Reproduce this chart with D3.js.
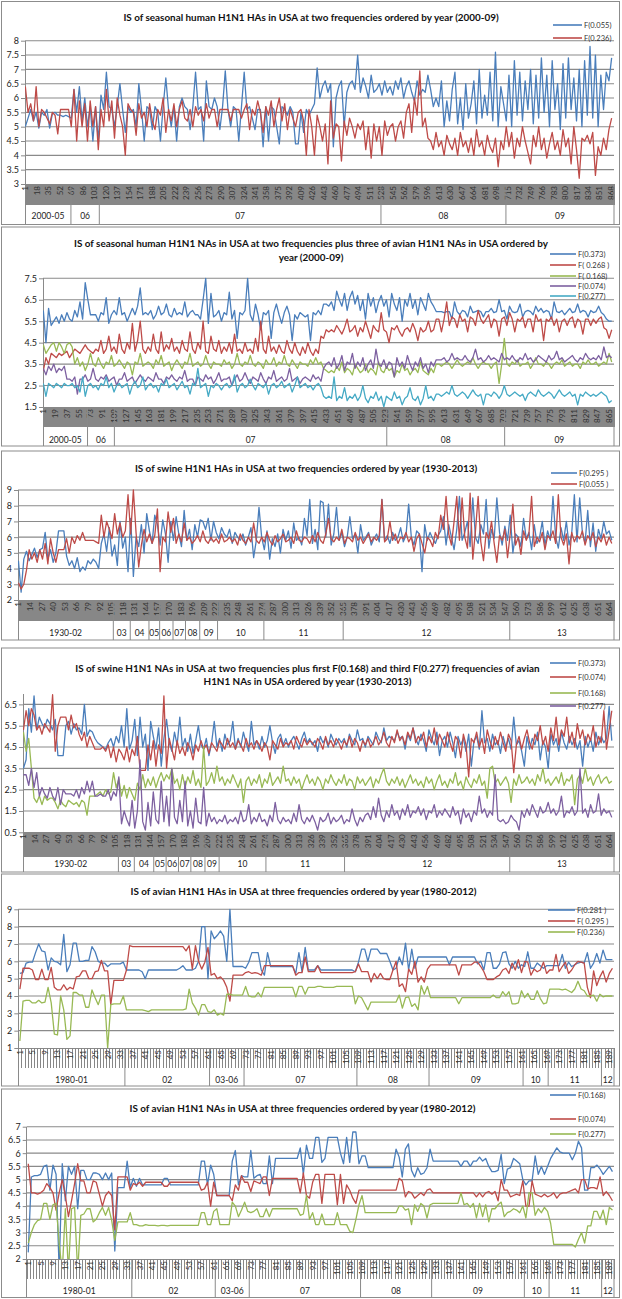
<!DOCTYPE html>
<html><head><meta charset="utf-8">
<script src="https://cdn.jsdelivr.net/npm/d3@7"></script>
<style>
body{margin:0;background:#fff;}
svg{display:block;font-family:Lato,"Open Sans",sans-serif;}
</style></head><body>
<svg id="chart" width="622" height="1299"></svg>
<script>
// ---------------- DATA ----------------
// Panel 1: seasonal human H1N1 HAs (2000-09), 872 sequences, values read every 4th sequence
const p1Step = 4;
const p1F0055 = [5.0,5.3,5.6,5.2,5.5,4.95,5.5,5.4,5.6,4.95,
5.45,5.5,5.4,5.4,5.35,5.4,5.35,5.3,6.3,5.5,
6.4,5.2,6.0,5.0,5.7,4.5,5.7,4.5,6.1,5.6,
6.9,5.7,5.6,5.0,5.7,6.5,5.6,4.8,5.7,5.5,
5.6,5.0,6.5,5.6,4.5,5.7,5.6,4.9,5.7,5.5,
4.5,5.7,6.7,5.6,5.0,5.7,4.5,5.7,6.0,5.7,
5.6,4.9,5.7,6.9,5.6,5.7,4.5,6.6,5.7,5.6,
6.0,5.7,4.9,5.7,6.95,5.6,5.0,5.7,5.6,4.5,
5.7,6.9,5.6,5.7,5.3,4.9,5.6,5.6,4.3,5.7,
4.5,5.7,5.6,5.0,4.4,5.7,5.6,5.4,5.7,5.5,
4.4,4.4,5.5,4.8,5.6,5.4,5.6,5.8,7.05,6.0,
6.4,6.6,6.2,6.5,4.3,6.0,6.4,6.6,5.0,6.2,
6.5,6.6,6.3,7.5,6.2,6.7,6.4,6.0,6.8,6.2,
6.3,6.5,6.1,6.6,6.2,6.4,6.1,6.6,6.3,6.7,
6.0,6.4,6.6,6.2,5.9,6.6,6.1,6.3,6.2,6.8,
6.3,5.7,6.0,5.7,6.6,5.0,5.9,5.2,6.3,6.9,
5.1,6.0,4.9,6.5,5.3,5.8,6.6,5.1,7.0,5.3,
6.1,5.4,6.9,5.2,7.6,5.0,6.4,5.8,5.2,6.8,
5.0,7.3,5.4,6.9,5.2,6.6,5.6,7.0,5.1,6.8,
5.3,7.4,5.5,6.8,5.0,7.3,5.6,6.5,4.9,7.2,
5.3,7.4,5.6,6.7,5.2,7.0,5.0,7.3,5.4,7.8,
5.3,7.5,5.0,6.8,5.6,6.9,6.6,7.4];
const p1F0236 = [6.4,5.5,5.8,5.2,6.4,5.0,5.6,5.5,5.3,5.1,
5.5,5.4,4.75,5.6,5.6,5.6,5.6,5.0,6.3,4.5,
5.9,5.0,5.8,4.5,5.9,5.0,5.7,4.2,5.6,5.0,
6.3,5.2,5.9,4.6,6.0,5.4,5.0,4.0,5.8,5.6,
5.5,4.7,5.8,5.3,5.5,5.0,5.8,5.2,4.9,5.6,
5.4,6.0,4.8,5.6,5.2,5.8,5.0,5.6,5.9,5.3,
5.2,5.6,5.0,5.7,5.4,5.6,5.2,5.8,5.3,5.6,
5.6,5.0,5.6,5.6,5.6,5.6,5.2,5.6,5.6,5.6,
5.3,5.6,5.8,4.9,5.6,5.4,5.9,5.5,4.8,5.7,
5.4,5.9,5.0,5.6,6.0,5.2,5.8,4.9,5.6,5.3,
5.0,5.5,5.6,5.2,4.0,5.6,5.0,4.0,5.4,5.0,
4.5,5.1,3.7,5.9,4.6,5.1,5.0,3.8,5.2,4.7,
5.3,5.0,4.6,5.1,4.9,5.2,4.2,5.0,3.9,5.1,
4.5,5.0,4.0,5.2,4.7,5.0,5.1,4.5,5.0,5.2,
4.6,5.5,5.8,4.8,6.0,5.4,6.95,5.0,5.3,4.6,
4.5,4.2,4.8,4.3,4.5,4.0,4.7,4.4,4.2,4.6,
4.0,4.8,4.3,4.5,4.1,4.6,4.0,4.9,4.3,4.5,
4.0,4.7,4.3,4.1,4.6,3.6,4.5,4.2,5.0,4.3,
4.8,3.9,4.6,4.3,5.0,4.5,4.1,3.7,4.7,4.3,
5.0,4.2,4.6,3.9,4.4,4.8,4.2,4.5,4.0,4.9,
4.3,4.6,3.7,5.0,4.2,3.2,4.6,4.5,4.7,4.4,
4.8,3.3,4.3,4.0,4.6,4.2,4.9,5.3];
const p1Years = ["2000-05","06","07","08","09"];
const p1YearEnds = [68,110,527,712,872];

// Panel 2: seasonal human H1N1 NAs + avian frequencies (2000-09)
const p2Step = 4;
const p2F0373 = [6.0,4.5,6.1,5.3,5.5,5.7,5.4,5.8,5.5,5.9,
5.6,5.5,6.0,5.7,6.4,5.6,7.3,6.5,5.8,5.8,
5.8,5.5,5.9,5.8,6.6,5.4,5.8,6.0,5.8,6.6,
5.8,5.9,5.5,5.8,6.1,5.8,6.2,7.05,5.8,5.9,
5.8,6.0,5.6,5.8,6.2,5.8,5.9,6.3,5.8,5.7,
6.1,5.8,5.9,5.8,6.4,5.7,5.9,6.0,5.8,5.8,
5.6,6.5,7.5,5.4,6.8,5.7,5.8,6.0,5.5,5.9,
5.8,6.85,5.6,6.0,4.7,5.9,5.8,6.0,7.5,5.8,
5.5,6.3,5.8,5.1,5.9,5.8,6.0,4.7,5.9,6.3,
5.8,5.4,5.9,6.2,5.8,4.6,5.8,5.6,5.9,5.8,
5.7,5.8,4.6,5.9,5.8,6.0,5.8,6.3,6.3,6.2,
6.4,6.0,6.9,6.5,6.2,6.8,6.0,6.6,6.9,6.3,
6.7,6.0,6.5,5.6,6.8,6.2,6.6,5.9,6.4,6.7,
6.2,6.5,5.7,6.8,6.3,6.0,6.6,5.5,6.5,6.2,
6.8,6.1,6.5,5.8,6.6,6.3,6.0,6.8,6.4,6.2,
5.95,5.95,5.95,5.9,5.95,5.95,5.6,6.4,5.95,5.8,
6.0,5.95,5.7,6.2,5.9,5.95,6.0,5.95,5.7,5.95,
5.95,6.1,5.9,5.95,6.5,5.95,6.0,5.6,6.2,5.95,
5.9,5.95,6.3,5.7,5.95,6.0,5.95,5.8,6.2,5.95,
6.1,5.9,6.0,5.95,5.6,6.4,5.95,5.9,6.0,5.8,
5.95,6.1,5.9,5.95,6.3,5.9,6.0,5.95,5.7,6.0,
5.9,5.95,6.2,5.9,5.8,5.6,5.5,5.5];
const p2F0268 = [3.2,3.8,3.5,4.0,3.9,3.8,4.0,3.9,4.0,4.1,
3.8,4.0,4.2,4.1,4.0,4.2,4.4,4.2,4.1,4.0,
4.2,4.1,4.6,4.0,4.2,4.8,4.1,4.3,4.0,4.9,
4.2,4.0,4.5,4.2,5.4,4.1,4.6,5.5,4.2,4.0,
4.3,4.1,4.9,4.2,4.0,5.0,4.1,4.4,4.2,4.7,
4.1,4.3,4.0,4.6,4.2,4.1,5.0,4.2,4.0,4.5,
4.2,5.5,4.1,4.0,4.8,4.2,4.1,4.6,4.0,4.3,
4.1,4.5,4.0,4.9,4.1,4.2,4.0,4.5,4.1,4.2,
4.0,4.7,4.1,5.5,4.2,4.0,4.8,4.1,4.3,4.0,
4.4,4.1,4.0,4.6,4.2,4.0,4.5,4.1,3.9,4.3,
4.0,4.5,4.1,3.9,4.2,4.0,4.8,4.7,5.1,5.0,
5.1,5.0,5.3,5.1,4.9,5.2,5.6,5.0,5.1,5.3,
4.8,5.2,5.0,5.5,5.1,4.7,5.3,5.1,5.0,5.9,
5.1,5.0,4.5,5.2,5.1,5.3,5.0,4.8,5.1,5.2,
5.0,5.4,5.1,4.6,5.2,5.0,5.1,5.5,5.0,5.1,
5.6,5.6,5.0,5.6,6.4,5.3,5.7,5.6,5.2,5.8,
5.5,5.6,5.0,5.7,5.6,5.3,6.0,5.6,5.4,5.6,
5.8,5.2,5.6,5.5,4.8,5.6,5.7,5.3,5.9,5.6,
5.0,5.6,5.5,5.7,5.2,5.6,5.6,5.0,5.8,5.5,
5.6,4.6,5.6,5.5,5.7,5.3,5.6,5.0,5.5,5.6,
5.3,5.6,5.7,5.2,5.6,5.5,4.9,5.6,5.6,5.3,
5.6,5.4,5.6,5.7,5.2,5.1,4.7,5.1];
const p2F0168 = [4.4,4.0,4.2,4.4,4.5,4.1,4.5,4.3,4.0,4.4,
4.5,4.3,3.5,3.8,3.4,3.6,3.2,3.5,4.0,3.5,
3.4,3.8,3.5,3.3,3.6,3.5,3.9,3.4,3.5,3.7,
3.5,3.3,3.6,3.5,3.0,3.6,3.5,4.0,3.4,3.5,
3.6,3.5,3.3,3.7,3.5,3.9,3.4,3.5,3.6,3.2,
3.5,3.7,3.5,3.3,3.6,3.5,4.0,3.4,3.5,3.6,
3.4,3.5,3.9,3.5,3.3,3.6,3.5,3.5,3.4,3.7,
3.5,3.6,3.3,3.5,4.0,3.5,3.4,3.6,3.5,3.9,
3.5,3.4,3.6,3.5,3.3,3.7,3.5,3.5,3.8,3.4,
3.6,3.5,3.9,3.5,3.4,3.7,3.5,3.3,3.6,3.5,
3.5,3.4,3.7,3.5,3.8,3.5,3.6,3.3,3.2,3.1,
3.2,3.1,3.4,3.2,3.6,3.1,3.3,3.2,3.0,3.5,
3.3,3.1,3.2,3.5,3.1,3.3,3.2,3.0,3.6,3.2,
3.1,3.4,3.2,3.3,2.9,3.2,3.1,3.5,3.2,3.3,
3.0,3.2,3.3,3.1,3.6,3.2,3.1,3.0,3.3,3.1,
3.5,3.5,3.4,3.5,3.6,3.5,3.3,3.5,3.7,3.5,
3.4,3.5,3.6,3.5,3.8,3.5,3.3,3.5,3.6,3.5,
3.5,3.3,3.5,3.6,2.6,3.5,4.7,3.5,3.4,3.6,
3.5,3.7,3.4,3.5,3.5,3.6,3.3,3.5,3.8,3.5,
3.5,3.4,3.6,3.5,3.3,3.5,3.6,3.5,3.7,3.4,
3.5,3.6,3.4,3.5,3.5,3.3,3.6,3.5,3.7,3.5,
3.5,3.6,3.4,3.5,3.6,3.5,4.0,3.6];
const p2F0074 = [3.3,3.0,3.4,3.2,3.5,3.1,3.3,3.2,3.4,2.8,
2.8,2.7,2.9,2.1,2.8,2.8,3.0,2.7,2.8,3.3,
2.8,2.7,2.9,2.8,3.0,2.7,2.8,2.9,2.5,2.8,
2.8,3.1,2.7,2.8,2.9,2.6,2.8,3.0,2.8,2.7,
2.9,2.8,2.7,3.1,2.8,2.8,2.6,2.9,2.8,3.0,
2.8,2.7,2.9,2.8,3.2,2.7,2.8,2.8,2.5,2.9,
2.8,2.7,3.0,2.8,2.9,2.6,2.8,3.1,2.7,2.8,
2.8,2.9,2.5,2.8,3.0,2.7,2.8,3.1,2.8,2.6,
2.9,2.8,2.7,3.1,2.8,2.6,2.9,2.8,3.2,2.7,
2.8,2.9,2.7,2.8,3.3,2.7,2.8,2.9,2.6,2.8,
2.9,2.8,2.7,3.0,2.8,2.9,2.7,3.3,3.5,3.6,
3.4,3.8,3.3,3.5,3.9,3.2,3.6,3.5,4.0,3.3,
3.6,3.4,3.8,3.2,3.5,3.7,3.3,4.2,3.5,3.4,
3.7,3.3,3.6,3.5,2.9,3.8,3.4,3.6,3.3,3.9,
3.5,3.2,3.6,3.4,3.8,3.3,3.5,3.1,3.6,3.4,
3.7,3.7,3.7,3.8,3.6,3.7,4.0,3.7,3.8,3.7,
3.7,3.9,3.7,3.6,3.8,4.2,3.7,3.8,3.6,3.7,
3.9,3.7,3.8,3.7,3.6,4.0,3.7,3.8,3.7,3.9,
3.7,3.6,3.8,3.7,4.0,3.7,3.8,3.6,3.7,3.9,
3.8,3.7,3.6,3.9,3.7,3.8,4.1,3.7,3.8,3.6,
3.7,3.8,3.9,3.7,3.6,3.8,3.7,4.0,3.8,3.7,
3.8,3.7,3.9,3.7,4.3,3.8,3.9,3.8];
const p2F0277 = [2.6,2.0,2.6,2.5,2.4,2.6,2.5,2.4,2.6,2.5,
2.5,2.6,2.4,2.5,2.2,2.9,2.0,2.5,2.6,2.4,
2.5,2.3,2.6,2.5,2.9,2.4,2.6,2.2,2.5,2.6,
2.4,2.5,2.6,2.1,2.5,2.7,2.4,2.5,2.9,2.3,
2.5,2.6,2.4,2.5,2.2,2.6,2.5,2.8,2.4,2.5,
2.6,2.3,2.5,2.7,2.4,2.5,2.1,2.6,2.5,3.3,
2.4,2.5,2.6,2.0,2.5,2.4,2.6,2.5,2.3,2.5,
2.6,2.4,2.5,3.0,2.2,2.5,2.6,2.4,2.5,2.8,
2.5,2.3,2.6,2.5,2.4,2.6,2.1,2.5,2.6,2.4,
2.5,2.7,2.4,2.5,2.6,2.2,2.5,2.9,2.4,2.5,
2.6,2.4,2.5,2.3,2.5,2.6,2.4,2.0,1.9,2.0,
1.9,2.9,1.8,2.0,1.9,2.4,1.8,2.0,1.9,2.1,
1.8,2.0,2.5,1.9,1.7,2.0,1.9,2.2,1.8,2.0,
1.5,2.0,1.9,1.8,2.2,1.9,2.0,1.6,1.9,2.0,
2.4,1.9,1.8,2.0,1.6,1.9,2.5,1.9,2.0,1.8,
2.1,2.1,2.0,2.1,2.2,2.1,2.5,2.1,2.0,2.1,
2.2,2.1,1.9,2.1,2.3,2.1,2.0,2.1,1.6,2.1,
2.1,2.0,2.2,2.1,1.9,2.1,2.5,2.1,2.0,2.1,
2.2,2.1,2.0,2.1,1.8,2.1,2.2,2.1,2.0,2.3,
2.1,2.0,2.1,2.2,2.1,1.9,2.1,2.3,2.1,2.0,
2.1,2.2,2.0,2.1,1.6,2.1,2.0,2.2,2.1,2.0,
2.1,2.0,2.1,2.2,2.1,2.0,1.7,1.8];
const p2Years = ["2000-05","06","07","08","09"];
const p2YearEnds = [68,109,525,705,872];

// Panel 3: swine H1N1 HAs (1930-2013), 669 sequences, every 3rd
const p3Step = 3;
const p3F0295 = [4.5,2.5,4.6,5.1,4.5,4.9,5.3,4.7,5.2,5.3,
6.3,4.6,5.2,4.4,5.0,6.4,6.4,6.4,4.8,4.2,
4.5,4.0,4.7,3.8,4.1,3.9,4.5,4.3,4.6,4.4,
4.0,5.6,6.2,5.1,6.6,4.8,5.5,4.2,7.0,5.3,
6.0,3.8,7.2,3.5,6.0,5.4,6.8,5.0,7.5,6.4,
5.6,7.4,6.8,5.5,7.1,6.2,4.4,7.0,5.8,7.3,
6.2,5.4,7.7,5.8,6.5,5.2,6.8,6.0,7.1,7.0,
6.5,7.2,5.8,7.0,6.3,5.9,6.6,6.2,6.0,6.5,
5.6,6.3,6.0,5.8,6.2,5.5,6.0,6.6,4.7,5.8,
7.9,6.0,5.2,6.4,4.6,5.9,5.4,6.2,5.0,6.5,
5.8,6.4,5.3,6.9,5.8,6.0,5.5,7.2,6.1,8.4,
5.6,6.5,5.2,8.3,8.2,6.0,8.1,5.5,6.2,7.9,
5.8,6.3,5.4,6.0,7.3,5.9,6.2,5.0,6.8,5.8,
6.0,6.3,5.5,5.9,6.2,5.7,8.4,5.8,6.1,5.6,
6.3,5.8,6.0,6.6,5.7,6.1,8.1,6.0,5.5,6.4,
6.2,3.8,6.8,5.8,6.3,5.9,5.6,6.1,6.4,7.3,
5.5,6.8,6.0,5.2,6.5,8.6,5.8,6.3,7.0,5.4,
8.5,6.0,5.6,6.8,6.2,8.4,5.3,6.5,5.9,8.5,
6.3,5.5,6.7,5.8,7.4,5.0,6.2,6.0,5.4,7.2,
5.9,6.3,5.2,6.8,5.6,6.0,7.0,5.5,6.4,5.8,
8.6,6.0,5.3,6.6,5.8,7.0,5.5,6.2,8.7,5.7,
8.5,6.3,5.6,7.7,5.4,6.9,5.1,6.5,5.9,7.0,
6.2,6.4,5.8];
const p3F0055 = [3.1,2.7,3.0,3.9,5.2,4.6,5.0,4.4,5.2,4.6,
5.6,4.3,5.9,5.0,4.4,5.2,5.2,5.2,5.9,5.0,
6.0,5.6,6.1,5.8,6.3,5.8,5.8,5.8,5.8,5.7,
5.6,7.4,6.0,7.0,6.5,5.9,7.5,6.2,6.9,6.0,
6.4,8.7,6.2,9.0,6.3,4.1,5.5,6.5,5.7,6.2,
5.6,6.1,7.8,3.8,6.0,5.7,7.6,6.3,7.2,5.6,
6.2,5.7,6.9,5.8,6.0,5.6,5.8,6.1,5.7,6.4,
5.8,5.6,6.0,5.7,5.9,5.6,6.2,5.7,5.8,6.0,
5.7,5.9,5.5,6.2,5.8,5.6,6.0,5.7,6.9,5.8,
5.6,6.0,5.7,6.3,5.8,5.5,6.1,5.7,5.9,6.2,
5.7,5.8,6.0,5.6,6.4,5.8,5.7,6.0,5.9,5.6,
6.1,5.7,6.3,5.8,5.6,6.2,7.2,5.9,5.7,6.0,
5.8,6.5,5.6,6.0,5.9,5.7,6.3,5.8,6.0,5.6,
5.9,6.2,5.7,6.0,5.8,6.1,8.4,5.7,5.9,7.0,
5.8,6.2,5.6,6.0,5.9,6.3,5.7,6.0,5.1,5.9,
6.2,5.6,5.0,6.0,5.8,5.4,6.3,5.9,7.4,6.5,
8.6,6.2,5.5,7.0,8.6,5.8,8.5,6.0,5.3,8.8,
4.6,6.4,8.6,5.7,4.5,6.3,5.9,7.0,5.6,4.4,
6.1,5.8,6.5,4.7,6.2,8.1,5.5,6.0,4.9,6.4,
5.8,6.2,8.6,5.4,6.0,5.7,6.3,5.2,6.1,5.9,
6.4,5.6,8.7,6.0,5.5,6.2,4.3,6.3,5.7,6.1,
5.9,6.4,5.5,6.1,5.8,6.3,5.4,6.0,5.7,6.2,
5.5,6.0,5.6];
const p3Years = ["1930-02","03","04","05","06","07","08","09","10","11","12","13"];
const p3YearEnds = [107,126,147,159,174,188,204,224,276,365,552,669];

// Panel 4: swine H1N1 NAs + avian frequencies (1930-2013)
const p4Step = 3;
const p4F0373 = [3.5,3.9,6.3,5.2,6.9,5.3,5.9,5.6,5.4,5.8,
5.6,5.3,5.8,4.1,4.1,4.1,5.5,5.7,5.1,5.6,
5.3,5.4,5.1,6.5,5.0,5.3,5.2,4.9,4.7,4.6,
4.5,4.4,4.7,4.9,4.5,5.0,4.7,5.5,4.5,6.3,
4.4,4.8,5.8,4.1,5.9,4.5,5.1,3.4,5.7,5.0,
4.4,5.4,3.6,4.9,5.8,4.7,4.3,5.2,4.6,5.9,
4.5,4.9,4.3,5.1,4.2,4.8,5.5,4.6,4.4,4.9,
4.1,4.7,5.7,4.5,4.9,4.3,5.1,4.6,4.8,5.7,
4.4,4.9,4.5,5.2,4.7,4.3,5.7,4.6,4.8,4.4,
5.0,4.5,4.8,5.5,4.7,4.2,4.9,5.1,4.6,4.9,
4.5,4.8,5.0,4.7,4.4,4.9,5.2,4.7,4.9,4.6,
4.8,4.3,5.0,4.7,4.9,4.5,5.1,4.8,4.6,4.9,
4.7,4.9,4.5,5.1,4.8,4.6,5.3,4.8,4.9,4.5,
5.0,4.8,4.6,5.2,4.9,4.7,5.4,4.8,5.0,4.9,
4.8,5.2,4.9,5.0,4.4,5.1,4.8,5.4,4.9,4.6,
5.1,4.8,4.3,5.3,4.9,4.6,5.2,4.1,4.8,5.0,
4.5,5.2,4.7,4.0,5.0,4.6,4.9,4.3,5.1,3.6,
4.8,5.0,4.4,6.2,4.7,4.9,4.3,5.1,4.6,4.8,
4.2,5.0,4.5,4.9,4.4,5.9,4.6,4.8,4.3,3.6,
5.0,4.4,4.9,4.6,5.2,3.9,4.8,4.5,3.5,5.1,
4.6,4.9,4.3,5.2,4.7,4.4,5.0,4.6,4.9,4.4,
4.8,3.6,5.0,4.5,4.9,4.3,5.2,4.6,5.0,4.7,
4.9,6.4,4.8];
const p4F0074 = [5.3,6.2,5.5,6.3,6.0,5.3,5.5,5.1,5.6,5.4,
5.2,6.95,4.3,5.5,5.9,5.9,5.9,5.3,6.0,5.4,
5.6,5.1,4.8,5.2,4.5,5.0,4.7,4.4,4.4,4.4,
4.5,4.3,4.6,4.0,4.5,3.8,4.4,4.2,3.9,4.5,
3.8,4.4,4.1,5.0,3.4,3.4,3.4,4.6,3.9,4.8,
3.6,4.6,4.2,6.9,3.5,4.9,4.4,3.9,4.8,4.2,
4.5,4.1,4.7,4.4,3.9,4.6,4.3,4.8,4.4,4.6,
4.2,4.7,4.5,4.3,4.8,4.6,4.4,4.9,4.5,4.7,
4.4,4.8,4.6,4.3,4.9,4.5,4.7,4.4,4.8,4.6,
4.3,4.7,4.5,3.9,4.8,4.6,4.4,4.9,4.5,4.7,
4.6,4.8,4.4,5.0,4.7,4.5,4.9,4.6,4.8,4.7,
4.5,4.9,4.7,4.4,5.0,4.6,4.8,4.5,4.9,4.7,
4.4,4.8,4.6,5.0,4.5,4.9,4.7,4.3,4.8,4.6,
4.9,4.5,4.7,5.0,4.6,4.8,5.2,4.7,4.5,5.0,
4.7,5.3,4.8,5.0,4.6,5.2,4.9,5.4,4.7,5.0,
4.8,5.2,4.5,5.0,4.7,5.4,4.6,5.1,4.8,4.5,
5.2,4.7,4.3,5.0,4.8,4.0,5.1,4.6,3.1,4.9,
4.7,5.2,4.5,4.9,4.2,5.3,4.8,4.4,5.0,4.6,
5.2,4.7,4.3,5.1,4.8,3.3,4.6,5.0,4.4,4.9,
5.3,4.7,4.4,5.1,4.8,5.5,4.6,5.0,4.3,5.4,
4.8,5.9,4.6,5.3,5.0,5.9,4.7,5.2,4.5,5.6,
4.9,5.3,4.6,5.1,4.8,5.5,4.5,5.0,4.7,6.2,
4.4,5.3,6.2];
const p4F0168 = [5.2,4.3,4.9,3.5,2.1,1.9,2.2,1.8,2.2,2.0,
2.1,2.1,1.9,1.6,2.0,1.8,1.7,2.0,1.9,1.8,
1.9,1.7,2.0,1.9,1.3,2.2,2.2,2.2,2.3,2.4,
2.2,2.5,2.3,2.4,3.3,2.6,3.0,2.2,2.7,2.1,
2.6,2.3,2.0,2.8,2.5,3.2,2.6,3.0,2.7,3.1,
2.6,3.0,3.3,2.9,3.2,3.0,3.5,2.8,3.0,2.5,
3.2,2.6,3.1,2.8,3.4,2.7,3.0,2.6,4.5,2.7,
2.9,3.3,2.8,3.6,2.9,3.1,2.7,3.0,2.8,3.2,
2.9,2.6,3.0,1.9,2.9,3.1,2.7,3.0,2.8,3.2,
2.6,3.0,2.8,3.3,2.7,2.9,3.1,2.8,3.6,2.9,
3.0,2.7,3.1,2.8,3.0,2.5,2.9,3.2,2.8,3.0,
2.7,3.1,2.9,2.5,3.0,2.8,3.2,2.9,2.7,3.0,
2.8,3.2,2.7,3.0,2.9,2.5,3.1,2.8,3.0,2.7,
2.9,3.1,2.6,3.0,2.8,3.2,3.5,2.9,2.7,3.0,
2.8,3.1,2.7,3.0,2.6,2.9,3.2,2.8,3.0,2.7,
2.9,2.6,3.1,2.8,3.0,2.5,2.9,3.2,2.7,2.9,
2.6,3.0,2.8,3.3,2.7,2.9,2.5,3.1,2.8,2.6,
3.0,2.8,3.2,2.7,2.9,2.1,3.5,3.6,2.8,3.0,
2.7,2.9,3.1,2.8,1.9,3.0,2.7,3.2,2.8,2.9,
3.1,2.8,3.0,2.7,3.2,2.9,3.5,2.8,3.0,2.7,
2.9,3.1,2.8,3.3,2.7,3.0,2.9,3.2,1.8,3.0,
3.2,2.8,3.5,2.9,3.1,2.7,3.0,3.2,2.8,3.0,
3.1,2.8,2.9];
const p4F0277 = [3.2,3.2,2.7,3.5,2.6,3.3,2.2,2.6,2.3,2.1,
2.6,2.2,2.0,2.6,1.8,2.5,2.3,2.3,2.3,2.2,
2.5,2.1,2.6,2.3,2.9,2.4,2.9,2.2,2.2,2.3,
2.2,2.2,2.5,2.0,2.4,2.2,3.1,0.9,1.5,1.1,
0.8,2.0,0.7,1.5,3.9,1.0,0.6,1.9,0.8,2.4,
1.1,0.9,2.9,1.0,2.2,0.8,3.5,1.2,0.9,2.0,
1.0,2.9,0.8,1.5,0.7,2.1,1.0,0.9,2.6,0.8,
1.4,1.0,1.2,0.9,1.1,1.0,1.3,0.9,1.1,1.0,
1.2,0.9,1.5,1.0,1.1,1.8,0.9,1.2,1.0,1.4,
1.0,1.1,0.8,1.3,1.0,1.9,1.1,0.9,1.2,1.0,
1.1,0.9,1.4,1.0,1.8,1.1,0.9,1.2,1.0,1.3,
1.0,0.6,1.2,1.0,1.1,1.4,0.9,1.2,1.0,1.1,
1.3,0.9,1.1,1.0,1.6,1.1,0.8,1.2,1.0,1.3,
1.4,1.1,1.7,1.2,2.1,1.3,1.0,1.5,1.2,1.8,
1.3,1.5,1.1,1.6,1.3,1.8,1.2,1.5,1.4,1.7,
1.3,1.6,1.1,1.5,1.4,1.8,1.2,1.5,1.3,1.6,
1.4,1.2,1.7,1.3,1.5,0.9,1.6,1.2,1.4,1.0,
1.5,1.3,2.2,1.4,1.6,1.2,1.5,1.3,3.2,1.1,
1.0,1.1,0.9,1.0,1.3,1.1,1.0,0.6,1.5,1.2,
1.6,1.3,1.8,1.5,1.2,1.7,1.4,1.5,1.9,1.4,
1.6,1.3,1.5,2.2,1.2,1.5,1.4,1.7,1.3,1.5,
3.5,1.4,1.6,1.2,1.8,1.4,1.5,2.3,1.3,1.6,
1.4,1.5,1.2];
const p4Years = ["1930-02","03","04","05","06","07","08","09","10","11","12","13"];
const p4YearEnds = [108,126,148,162,176,190,206,222,275,364,551,669];

// Panel 5: avian H1N1 HAs (1980-2012), 190 sequences
const p5Step = 1;
const p5F0281 = [5.3,5.35,5.9,5.95,5.95,6.5,7.0,6.6,6.55,5.5,
6.2,6.0,5.95,5.8,7.55,5.4,5.8,7.05,7.05,6.0,
6.0,6.05,6.05,6.85,6.55,6.0,5.9,5.9,5.7,5.85,
5.85,5.85,5.85,5.95,5.5,5.5,5.5,5.5,5.5,5.4,
5.0,5.5,5.5,5.5,5.5,5.5,5.5,5.5,5.5,5.5,
5.5,5.6,5.75,5.5,5.5,5.5,5.6,6.0,8.0,8.0,
5.0,7.75,7.3,7.5,7.75,7.45,6.0,9.0,5.7,5.7,
5.7,5.7,5.6,5.95,6.5,6.5,6.5,5.5,5.2,6.5,
5.7,5.7,5.7,5.7,5.7,5.7,5.7,5.7,5.3,6.5,
5.4,6.8,5.5,5.5,5.5,5.75,5.5,5.5,5.5,5.5,
5.5,5.5,5.5,5.5,5.5,5.5,5.5,5.4,5.95,6.7,
6.7,6.0,6.7,6.7,6.7,6.45,6.45,6.45,6.0,5.5,
5.6,6.25,5.8,7.05,5.5,6.7,5.6,6.25,6.25,6.25,
6.25,6.25,6.25,6.25,6.25,6.25,6.25,5.8,6.25,6.25,
6.25,6.25,6.25,6.25,6.25,6.25,5.85,6.0,5.5,6.5,
6.5,5.6,5.6,5.85,6.5,6.55,5.85,5.6,6.0,5.6,
5.8,5.7,6.55,5.6,5.6,5.9,5.75,5.6,5.75,5.75,
5.75,5.75,5.75,6.4,5.6,5.95,5.7,5.8,5.9,5.95,
5.9,6.5,5.6,5.9,6.45,5.9,6.65,6.1,6.1,6.1];
const p5F0295 = [4.4,5.6,5.6,5.6,5.5,4.95,4.95,5.55,4.95,4.95,
5.65,4.5,4.35,4.35,4.65,4.35,4.5,4.4,5.1,5.15,
5.45,5.45,5.0,5.0,5.4,5.45,6.05,5.45,5.45,3.5,
4.9,4.9,4.9,4.9,5.5,6.9,6.85,6.85,6.85,6.85,
6.85,6.85,6.85,6.85,6.85,6.85,6.85,6.85,6.85,6.85,
6.85,6.85,6.85,6.6,6.9,5.55,6.9,6.0,5.55,5.95,
6.8,5.2,5.3,5.0,5.1,4.9,4.5,3.7,5.2,5.2,
5.2,5.2,5.35,5.4,5.3,5.35,5.3,5.2,5.75,5.75,
5.75,5.75,5.75,5.75,5.75,5.75,5.75,5.75,5.2,5.35,
5.35,6.25,5.4,5.4,5.4,5.75,5.35,5.35,5.35,5.35,
5.35,5.35,5.35,5.35,5.35,5.35,5.35,5.4,5.85,5.4,
5.4,5.4,4.8,5.3,5.0,5.3,5.0,4.95,4.95,5.5,
6.0,4.55,4.7,4.25,5.55,5.25,6.0,4.8,5.1,4.8,
5.55,5.8,5.8,5.8,5.8,5.8,5.8,5.8,5.8,5.8,
5.2,5.8,5.8,5.8,5.8,5.95,5.95,5.7,5.4,4.95,
4.95,4.95,5.1,5.2,5.5,5.6,5.3,5.9,5.5,6.1,
5.35,6.0,5.95,5.2,5.55,5.4,5.5,5.95,5.3,5.5,
5.5,6.4,5.4,5.7,5.95,5.3,5.5,5.8,6.0,5.95,
5.9,4.5,3.9,5.45,4.6,5.1,5.45,4.8,5.3,5.6];
const p5F0236 = [1.4,3.7,3.75,3.75,3.6,3.6,3.75,3.6,3.65,4.5,
3.6,1.8,1.75,4.0,3.2,1.5,1.7,4.2,4.2,4.05,
4.05,3.35,3.35,4.35,3.9,3.5,4.05,4.05,1.0,3.5,
3.55,3.55,3.55,4.0,3.2,3.2,3.2,3.2,3.2,3.2,
3.15,3.1,3.2,3.2,3.2,3.2,3.2,3.2,3.2,3.2,
3.2,3.2,3.2,3.25,4.4,3.6,3.3,2.9,3.5,3.5,
3.1,3.05,3.2,2.9,3.0,2.9,4.1,4.1,4.05,4.05,
4.05,4.05,4.55,4.0,3.95,3.95,4.2,3.95,4.5,4.5,
4.5,4.5,4.5,4.5,4.5,4.5,4.5,4.5,3.95,4.55,
4.55,4.1,4.5,4.5,4.5,4.55,4.55,4.5,4.5,4.5,
4.5,4.55,4.55,4.55,4.55,4.55,4.55,3.55,4.0,3.9,
3.55,3.2,3.65,3.65,3.65,3.65,3.65,3.65,3.65,3.65,
3.65,4.05,3.3,3.9,3.95,3.4,3.55,3.2,4.6,4.1,
4.55,3.9,3.9,3.9,3.9,3.9,3.9,3.9,3.9,3.9,
3.55,3.9,3.9,3.9,3.9,3.9,3.9,3.9,3.9,3.9,
3.9,4.05,3.9,3.9,4.25,4.0,4.25,3.55,3.55,3.6,
4.3,3.9,4.15,3.8,3.8,4.3,3.85,3.55,3.6,4.4,
4.4,4.4,4.4,4.35,4.4,4.3,4.2,4.4,4.85,4.4,
4.3,4.0,4.0,4.05,3.7,4.1,3.95,4.0,4.0,4.0];
const p5Years = ["1980-01","02","03-06","07","08","09","10","11","12"];
const p5YearEnds = [34,61,72,108,131,161,169,186,190];

// Panel 6: avian H1N1 NAs (1980-2012), 190 sequences
const p6Step = 1;
const p6F0168 = [2.25,5.1,5.15,5.15,5.2,5.5,5.55,4.6,5.55,5.2,
1.6,5.6,4.2,5.5,5.2,5.5,3.9,5.35,5.35,5.0,
5.0,5.25,5.25,5.2,5.0,5.25,5.0,5.25,2.3,4.7,
4.7,4.7,5.7,4.7,5.05,4.75,5.05,4.8,4.8,4.8,
4.8,4.8,4.8,4.8,5.05,5.05,4.8,4.8,4.8,4.8,
4.8,4.8,4.8,4.8,4.8,4.8,5.7,5.7,4.8,5.55,
5.2,4.4,4.4,4.4,4.4,4.4,5.7,6.1,4.8,5.15,
5.1,5.1,6.1,5.05,5.15,5.2,4.85,4.85,5.9,4.85,
5.8,5.8,5.8,5.8,5.8,5.8,5.8,5.8,6.2,5.2,
6.3,5.8,5.8,6.6,6.6,5.65,5.8,6.6,6.6,6.6,
6.6,6.0,5.6,6.6,5.65,6.8,6.8,5.6,5.9,5.9,
5.45,5.45,5.45,5.45,5.45,5.45,5.45,5.45,5.45,6.15,
5.85,5.1,6.15,6.35,5.35,5.1,5.45,5.2,5.25,5.45,
6.15,5.7,5.7,5.7,5.7,5.7,5.7,5.7,5.7,5.7,
5.5,5.7,5.7,5.5,5.7,5.7,5.85,5.7,5.8,5.5,
5.3,5.3,5.35,5.95,4.85,5.4,5.45,5.8,5.7,5.6,
5.0,4.8,4.95,4.95,5.9,5.2,5.5,5.2,5.5,5.8,
6.0,6.2,6.05,6.0,6.0,6.0,5.75,6.0,6.45,6.2,
4.6,4.6,5.45,5.45,5.55,5.4,5.2,5.35,5.5,5.3];
const p6F0074 = [5.6,4.5,4.5,4.45,4.5,4.6,4.85,4.7,4.5,3.85,
4.5,5.0,4.4,3.6,4.2,4.85,5.6,4.95,4.95,4.5,
4.5,4.95,4.9,4.45,4.0,4.4,4.55,4.4,3.1,5.1,
5.1,5.1,5.1,4.6,4.85,4.8,4.9,4.75,4.9,4.9,
4.9,4.9,4.9,4.9,4.75,4.75,4.9,4.9,4.9,4.9,
4.9,4.9,4.9,4.9,4.9,4.9,4.6,4.65,4.9,4.0,
4.9,4.4,4.4,4.4,4.4,4.4,4.2,4.8,4.6,5.15,
4.9,4.9,4.55,4.95,4.9,4.85,5.1,5.1,4.4,5.05,
5.05,5.05,5.05,5.05,5.05,5.05,5.05,5.05,4.5,5.25,
4.4,4.3,4.9,5.2,5.2,4.1,5.2,5.2,5.2,5.2,
4.05,5.2,4.1,4.8,4.6,4.3,4.1,4.6,4.6,4.6,
4.6,4.6,4.6,4.6,4.6,4.6,4.6,4.6,4.6,4.6,
5.05,4.95,4.35,4.55,4.5,4.3,4.4,4.5,4.4,4.6,
4.65,4.5,4.5,4.5,4.5,4.5,4.5,4.5,4.5,4.5,
4.5,4.5,4.5,4.5,4.5,4.35,4.5,4.35,4.5,4.55,
4.45,4.55,4.2,5.0,4.6,4.6,4.35,4.4,4.45,4.4,
4.95,4.0,4.0,4.95,4.45,4.4,4.35,4.45,4.35,4.4,
4.5,4.3,4.45,4.5,4.5,4.55,4.6,4.65,4.5,5.0,
5.0,4.65,4.7,4.7,4.65,5.1,4.4,4.55,4.4,4.2];
const p6F0277 = [2.6,3.0,3.3,3.45,3.5,4.1,4.1,3.5,4.05,4.1,
2.6,1.5,3.9,1.5,3.9,3.95,1.5,3.65,3.7,3.9,
3.9,3.4,3.5,3.75,3.95,3.65,3.95,3.45,2.7,3.4,
3.4,3.4,3.4,3.75,3.3,3.3,3.25,3.25,3.3,3.27,
3.27,3.27,3.25,3.27,3.27,3.25,3.27,3.27,3.27,3.27,
3.27,3.27,3.27,3.27,3.27,3.27,3.75,3.75,3.3,3.3,
3.8,3.9,3.3,3.3,3.3,3.3,4.15,4.0,3.6,3.85,
4.15,3.8,3.75,3.8,3.9,3.6,3.6,3.9,3.6,3.9,
3.9,3.9,3.9,3.9,3.9,3.9,3.9,3.9,3.65,3.7,
4.4,3.5,3.75,3.3,3.3,3.7,3.3,3.3,3.3,3.3,
3.75,3.3,3.3,3.3,3.05,3.0,3.5,4.05,4.4,3.75,
3.75,3.75,3.75,3.75,3.75,3.75,3.75,3.75,3.75,3.75,
4.0,4.0,3.85,3.9,3.3,4.05,3.8,4.1,4.0,3.55,
4.05,4.1,4.1,4.1,4.1,4.1,4.1,4.1,4.1,4.1,
4.5,4.05,4.1,3.95,4.1,3.55,4.1,3.6,4.05,3.4,
3.9,3.9,4.05,4.15,3.6,3.75,3.8,3.9,3.85,3.75,
4.0,3.55,4.5,4.5,3.65,3.9,3.75,3.95,3.8,3.35,
2.55,2.55,2.55,2.55,2.55,2.55,2.55,2.45,2.75,3.0,
2.6,3.25,3.25,3.8,3.8,3.5,3.85,3.3,3.95,3.85];
const p6Years = ["1980-01","02","03-06","07","08","09","10","11","12"];
const p6YearEnds = [34,61,72,108,131,161,169,186,190];

// ---------------- DRAWING ----------------
const C = {blue:"#4A7EBB", red:"#BE4B48", green:"#98B954", purple:"#7D60A0", aqua:"#46AAC5"};
const svg = d3.select("#chart");
const GRID = "#8a8a8a";

const panels = [
 {box:[1.5,1.5,619.5,224.5], title:["IS of seasonal human H1N1 HAs in USA at two frequencies ordered by year (2000-09)"], titleX:311, titleY:[21],
  left:25, right:614, top:40.7, bottom:184, n:872, yDomain:[3,8], yStep:0.5, labelStart:1, labelStep:17,
  bandBottom:205, yearBottom:224, yearTextY:218.5, step:p1Step, years:p1Years, yearEnds:p1YearEnds,
  legX:[553,582,584], series:[{name:"F(0.055)",v:p1F0055,c:C.blue,ly:25},{name:"F(0.236)",v:p1F0236,c:C.red,ly:38}]},
 {box:[1.5,227,619.5,446], title:["IS of seasonal human H1N1 NAs in USA at two frequencies plus three of avian H1N1 NAs in USA ordered by","year (2000-09)"], titleX:311, titleY:[246.5,260.5],
  left:43, right:614, top:278.3, bottom:407, n:872, yDomain:[1.5,7.5], yStep:1, labelStart:1, labelStep:18,
  bandBottom:427, yearBottom:446, yearTextY:443, step:p2Step, years:p2Years, yearEnds:p2YearEnds,
  legX:[550,576,578], series:[{name:"F(0.373)",v:p2F0373,c:C.blue,ly:254},{name:"F( 0.268 )",v:p2F0268,c:C.red,ly:265},
   {name:"F( 0.168)",v:p2F0168,c:C.green,ly:276},{name:"F(0.074)",v:p2F0074,c:C.purple,ly:286},{name:"F(0.277)",v:p2F0277,c:C.aqua,ly:296}]},
 {box:[1.5,451,619.5,640], title:["IS of swine H1N1 HAs in USA at two frequencies ordered by year (1930-2013)"], titleX:306, titleY:[471.5],
  left:18, right:614, top:490, bottom:600, n:669, yDomain:[2,9], yStep:1, labelStart:1, labelStep:13,
  bandBottom:621, yearBottom:640, yearTextY:636, step:p3Step, years:p3Years, yearEnds:p3YearEnds,
  legX:[551,577,579], series:[{name:"F(0.295 )",v:p3F0295,c:C.blue,ly:473},{name:"F(0.055 )",v:p3F0055,c:C.red,ly:484}]},
 {box:[1.5,648,619.5,872], title:["IS of swine H1N1 NAs in USA at two frequencies plus first F(0.168) and third F(0.277) frequencies of avian","H1N1 NAs in USA ordered by year (1930-2013)"], titleX:307.5, titleY:[672,684.5],
  left:23, right:614, top:693.7, bottom:832.3, n:669, yDomain:[0.5,7], yStep:1, labelStart:1, labelStep:13,
  bandBottom:857, yearBottom:872, yearTextY:867, step:p4Step, years:p4Years, yearEnds:p4YearEnds,
  legX:[550,576,578], series:[{name:"F(0.373)",v:p4F0373,c:C.blue,ly:663},{name:"F(0.074)",v:p4F0074,c:C.red,ly:677},
   {name:"F(0.168)",v:p4F0168,c:C.green,ly:693},{name:"F(0.277)",v:p4F0277,c:C.purple,ly:706}]},
 {box:[1.5,874,619.5,1086], title:["IS of avian H1N1 HAs in USA at three frequencies ordered by year (1980-2012)"], titleX:303.5, titleY:[894.5],
  left:18.3, right:614, top:909.3, bottom:1048, n:190, yDomain:[1,9], yStep:1, labelStart:1, labelStep:4,
  bandBottom:1068, yearBottom:1086, yearTextY:1083, step:p5Step, years:p5Years, yearEnds:p5YearEnds,
  legX:[548,575,577], series:[{name:"F(0.281 )",v:p5F0281,c:C.blue,ly:910},{name:"F( 0.295 )",v:p5F0295,c:C.red,ly:921},{name:"F(0.236)",v:p5F0236,c:C.green,ly:932}]},
 {box:[1.5,1089,619.5,1297.5], title:["IS of avian H1N1 NAs in USA at three frequencies ordered by year (1980-2012)"], titleX:302.5, titleY:[1111.5],
  left:26.7, right:614, top:1126.7, bottom:1259, n:190, yDomain:[2,7], yStep:0.5, labelStart:1, labelStep:4,
  bandBottom:1279, yearBottom:1297.5, yearTextY:1294, step:p6Step, years:p6Years, yearEnds:p6YearEnds,
  legX:[550,576,578], series:[{name:"F(0.168)",v:p6F0168,c:C.blue,ly:1095},{name:"F(0.074)",v:p6F0074,c:C.red,ly:1119},{name:"F(0.277)",v:p6F0277,c:C.green,ly:1134}]}
];

panels.forEach((p, pi) => {
  const g = svg.append("g");
  g.append("rect").attr("x",p.box[0]).attr("y",p.box[1]).attr("width",p.box[2]-p.box[0]).attr("height",p.box[3]-p.box[1])
    .attr("fill","#fff").attr("stroke","#8c8c8c").attr("stroke-width",1);

  const x = d3.scaleLinear().domain([0.5, p.n + 0.5]).range([p.left, p.right]);
  const y = d3.scaleLinear().domain(p.yDomain).range([p.bottom, p.top]);

  const yTicks = d3.range(Math.round((p.yDomain[1]-p.yDomain[0])/p.yStep)+1)
    .map(k => +(p.yDomain[0] + k*p.yStep).toFixed(2)).filter(v => v <= p.yDomain[1] + 1e-9);

  // gridlines
  g.append("g").selectAll("line").data(yTicks.filter(v => v > p.yDomain[0])).join("line")
    .attr("x1", p.left).attr("x2", p.right).attr("y1", d => y(d)).attr("y2", d => y(d))
    .attr("stroke", GRID).attr("stroke-width", 1.1);

  // y axis
  const ya = g.append("g").attr("transform", `translate(${p.left},0)`)
    .call(d3.axisLeft(y).tickValues(yTicks).tickSize(4).tickSizeOuter(0).tickFormat(d => String(+d.toFixed(1))));
  ya.select(".domain").remove();
  ya.selectAll("line").attr("stroke", GRID);
  ya.selectAll("text").attr("font-size", 9).attr("fill", "#222").attr("x", -6).attr("font-family","Lato,'Open Sans',sans-serif");
  g.append("line").attr("x1", p.left).attr("x2", p.left).attr("y1", p.top).attr("y2", p.yearBottom)
    .attr("stroke", GRID).attr("stroke-width", 1).attr("shape-rendering","crispEdges");

  // category ticks (one per sequence, between categories)
  const bounds = d3.range(0, p.n + 1).map(c => c + 0.5);
  const xa = g.append("g").attr("transform", `translate(0,${p.bottom})`)
    .call(d3.axisBottom(x).tickValues(bounds).tickSize(p.bandBottom - p.bottom).tickSizeOuter(0).tickFormat(""));
  xa.select(".domain").attr("stroke", GRID);
  xa.selectAll(".tick line").attr("stroke", "#878787").attr("shape-rendering","crispEdges");

  // category labels
  const labels = d3.range(p.labelStart, p.n + 1, p.labelStep);
  g.append("g").selectAll("text").data(labels).join("text")
    .attr("transform", d => `translate(${x(d)+3},${p.bottom+2}) rotate(-90)`)
    .attr("text-anchor", "end").attr("font-size", 8).attr("fill", "#333").text(d => d);

  // year row separators & labels
  let start = 1;
  const yg = g.append("g");
  p.years.forEach((name, k) => {
    const end = p.yearEnds[k];
    const xr = x(end + 0.5);
    yg.append("line").attr("x1", xr).attr("x2", xr).attr("y1", p.bottom).attr("y2", p.yearBottom)
      .attr("stroke", GRID).attr("stroke-width", 1);
    yg.append("text").attr("x", (x(start - 0.5) + xr) / 2).attr("y", p.yearTextY)
      .attr("text-anchor", "middle").attr("font-size", 8.5).attr("fill", "#222").text(name);
    start = end + 1;
  });

  // clip
  const cid = "clip" + pi;
  g.append("clipPath").attr("id", cid).append("rect")
    .attr("x", p.left).attr("y", p.top - 1).attr("width", p.right - p.left + 2).attr("height", p.bottom - p.top + 1);

  const line = d3.line().x((d, i) => x(1 + i * p.step)).y(d => y(d));
  const lg = g.append("g").attr("clip-path", `url(#${cid})`);
  p.series.forEach(s => {
    lg.append("path").datum(s.v).attr("d", line).attr("fill", "none").attr("stroke", s.c)
      .attr("stroke-width", 1.3).attr("stroke-linejoin", "round");
  });

  // legend
  p.series.forEach(s => {
    g.append("line").attr("x1", p.legX[0]).attr("x2", p.legX[1]).attr("y1", s.ly).attr("y2", s.ly)
      .attr("stroke", s.c).attr("stroke-width", 1.6);
    g.append("text").attr("x", p.legX[2]).attr("y", s.ly + 2.6).attr("font-size", 7.5).attr("fill", "#333").text(s.name);
  });

  // title
  p.title.forEach((t, k) => {
    g.append("text").attr("x", p.titleX).attr("y", p.titleY[k]).attr("text-anchor", "middle")
      .attr("font-size", 9.9).attr("font-weight", "bold").attr("fill", "#111").text(t);
  });
});
</script>
</body></html>
